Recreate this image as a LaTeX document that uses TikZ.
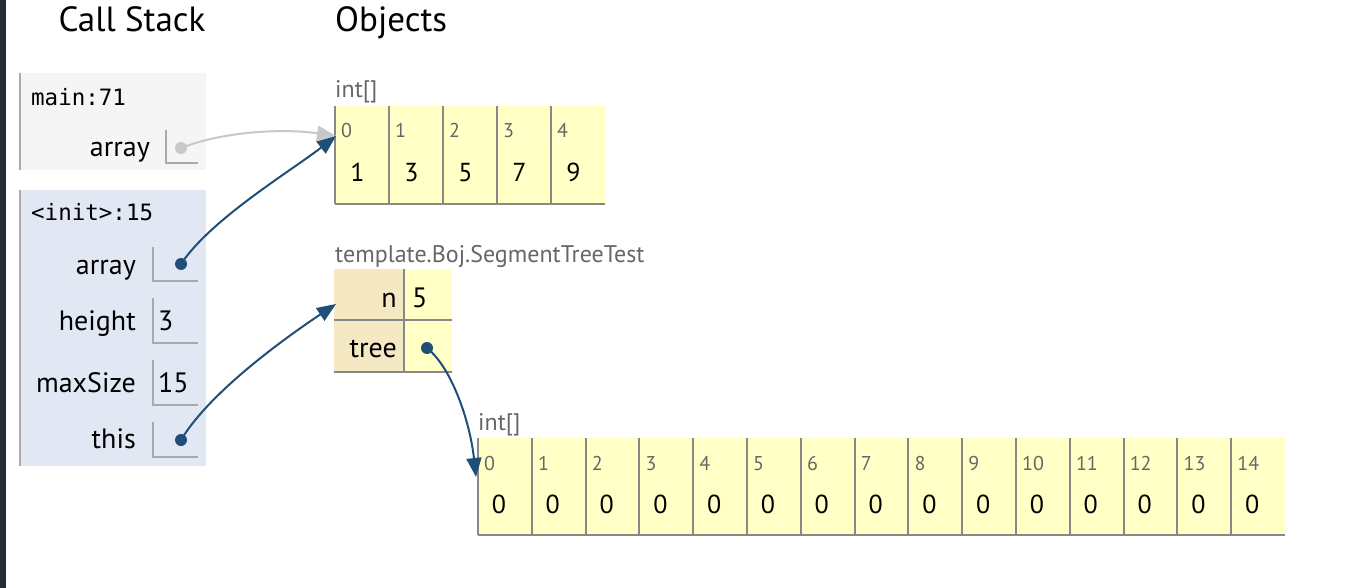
\documentclass[tikz,border=0pt]{standalone}
\usepackage{fontspec}
\setmainfont{PT Sans}
\setmonofont{DejaVu Sans Mono}
\usetikzlibrary{arrows.meta,calc}
\definecolor{stripc}{HTML}{272B33}
\definecolor{mainbg}{HTML}{F5F5F5}
\definecolor{initbg}{HTML}{E2E8F3}
\definecolor{framel}{HTML}{AAAAAA}
\definecolor{cellbg}{HTML}{FFFFC6}
\definecolor{keybg}{HTML}{F5E9C4}
\definecolor{celll}{HTML}{888888}
\definecolor{ptrblue}{HTML}{1F4E79}
\definecolor{ptrgray}{HTML}{C8C8C8}
\definecolor{idxc}{HTML}{666666}
\tikzset{
  hdr/.style={font=\fontsize{35}{40}\selectfont, inner sep=0pt},
  mono/.style={font=\ttfamily\fontsize{22.5}{26}\selectfont, inner sep=0pt},
  vlabel/.style={font=\fontsize{28}{32}\selectfont, inner sep=0pt, anchor=base east},
  vval/.style={font=\fontsize{28}{32}\selectfont, inner sep=0pt, anchor=base west},
  tlabel/.style={font=\fontsize{24}{28}\selectfont, inner sep=0pt, anchor=base west, text=idxc},
  idx/.style={font=\fontsize{20}{24}\selectfont, inner sep=0pt, anchor=base west, text=idxc},
  cellv/.style={font=\fontsize{26}{30}\selectfont, inner sep=0pt, anchor=base},
  vbox/.style={inner sep=0pt, anchor=north west},
  boxline/.style={draw=framel, line width=2pt},
  cellline/.style={draw=celll, line width=2pt},
  dot/.style={circle, inner sep=0pt, minimum size=12pt},
  ptr/.style={line width=2pt, -{Triangle[length=19pt,width=15pt]}},
}
\begin{document}
\begin{tikzpicture}[x=1pt,y=-1pt]
\useasboundingbox (0,0) rectangle (1346,588);
\fill[white] (0,0) rectangle (1346,588);
\fill[stripc] (0,0) rectangle (6,588);

% headers
\node[hdr, anchor=base] (hcs) at (132,32) {Call Stack};
\node[hdr, anchor=base west] (hob) at (335,32) {Objects};

% main frame
\node[fill=mainbg, minimum width=186pt, minimum height=97pt, anchor=north west, inner sep=0pt] (fmain) at (20,73) {};
\draw[framel, line width=2.5pt] (fmain.north west) -- (fmain.south west);
\node[mono, anchor=base west] (mname) at (31,106) {main:71};
\node[vlabel] (mlab) at (150,157) {array};
\node[vbox, minimum width=32pt, minimum height=33pt] (mbox) at (166,130) {};
\draw[boxline] (mbox.north west) -- (mbox.south west) -- (mbox.south east);
\node[dot, fill=ptrgray] (mdot) at (181,148) {};

% init frame
\node[fill=initbg, minimum width=186pt, minimum height=276pt, anchor=north west, inner sep=0pt] (finit) at (20,190) {};
\draw[framel, line width=2.5pt] (finit.north west) -- (finit.south west);
\node[mono, anchor=base west] (iname) at (31,221) {<init>:15};
\node[vlabel] (ilab1) at (136,274) {array};
\node[vbox, minimum width=45pt, minimum height=34pt] (ibox1) at (153,247) {};
\draw[boxline] (ibox1.north west) -- (ibox1.south west) -- (ibox1.south east);
\node[dot, fill=ptrblue] (idot) at (181,264) {};
\node[vlabel] (ilab2) at (136,330) {height};
\node[vbox, minimum width=45pt, minimum height=45pt] (ibox2) at (153,298) {};
\draw[boxline] (ibox2.north west) -- (ibox2.south west) -- (ibox2.south east);
\node[vval] (ival2) at (158,330) {3};
\node[vlabel] (ilab3) at (136,392) {maxSize};
\node[vbox, minimum width=45pt, minimum height=45pt] (ibox3) at (153,360) {};
\draw[boxline] (ibox3.north west) -- (ibox3.south west) -- (ibox3.south east);
\node[vval] (ival3) at (158,392) {15};
\node[vlabel] (ilab4) at (136,448) {this};
\node[vbox, minimum width=45pt, minimum height=35pt] (ibox4) at (153,422) {};
\draw[boxline] (ibox4.north west) -- (ibox4.south west) -- (ibox4.south east);
\node[dot, fill=ptrblue] (tdot) at (181,440) {};

% array 1
\node[tlabel] (t1) at (335,98) {int[]};
\foreach \v [count=\i from 0] in {1,3,5,7,9} {
  \node[fill=cellbg, minimum width=54pt, minimum height=98pt, anchor=north west, inner sep=0pt] (a\i) at ({335+54*\i},106) {};
  \draw[cellline] (a\i.north west) -- (a\i.south west);
  \node[idx] (ai\i) at ({341+54*\i},138) {\i};
  \node[cellv] (av\i) at ({357.5+54*\i},182) {\v};
}
\draw[cellline] (a0.south west) -- (a4.south east);
\coordinate (a1in) at (336,136);

% object
\node[tlabel] (t2) at (335,262) {template.Boj.SegmentTreeTest};
\node[fill=keybg, minimum width=70pt, minimum height=51pt, anchor=north west, inner sep=0pt] (k1) at (334,269) {};
\node[fill=cellbg, minimum width=48pt, minimum height=51pt, anchor=north west, inner sep=0pt] (v1) at (404,269) {};
\node[fill=keybg, minimum width=70pt, minimum height=52pt, anchor=north west, inner sep=0pt] (k2) at (334,320) {};
\node[fill=cellbg, minimum width=48pt, minimum height=52pt, anchor=north west, inner sep=0pt] (v2) at (404,320) {};
\draw[cellline] (v1.north west) -- (v2.south west);
\draw[cellline] (k2.north west) -- (v2.north east);
\draw[cellline] (k2.south west) -- (v2.south east);
\node[vlabel] (kn) at (397,307) {n};
\node[vval] (vn) at (412,307) {5};
\node[vlabel] (kt) at (397,357) {tree};
\node[dot, fill=ptrblue] (trdot) at (427,348) {};
\coordinate (objin) at (336,304);

% array 2
\node[tlabel] (t3) at (478,430) {int[]};
\foreach \i in {0,...,14} {
  \node[fill=cellbg, minimum width=53.8pt, minimum height=97pt, anchor=north west, inner sep=0pt] (b\i) at ({478+53.8*\i},438) {};
  \draw[cellline] (b\i.north west) -- (b\i.south west);
  \node[idx] (bi\i) at ({484+53.8*\i},470) {\i};
  \node[cellv] (bv\i) at ({499+53.8*\i},513) {0};
}
\draw[cellline] (b0.south west) -- (b14.south east);
\coordinate (a2in) at (476,477);

% pointers
\draw[ptr, ptrgray] (mdot.center) .. controls +(40,-16) and +(-55,-8) .. (a1in);
\draw[ptr, ptrblue] (idot.center) .. controls +(30,-45) and +(-45,35) .. (a1in);
\draw[ptr, ptrblue] (tdot.center) .. controls +(30,-50) and +(-45,30) .. (objin);
\draw[ptr, ptrblue] (trdot.center) .. controls +(25,20) and +(-6,-55) .. (a2in);
\end{tikzpicture}
\end{document}
